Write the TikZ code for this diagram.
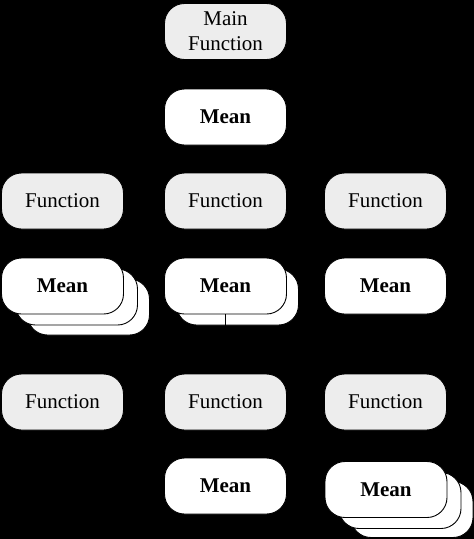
\documentclass[tikz,border=0pt]{standalone}
\usepackage{fontspec}
\setmainfont{Liberation Serif}
\begin{document}
\begin{tikzpicture}[x=1pt,y=-1pt,
  card/.style={draw=black, line width=0.9pt, rounded corners=20pt, minimum width=122pt, minimum height=56pt, inner sep=0pt, align=center, font=\fontsize{21}{25}\selectfont},
  func/.style={card, fill=funcgray},
  meanbox/.style={card, fill=white, font=\fontsize{21}{25}\selectfont\bfseries},
  copybox/.style={card, fill=white}]
\definecolor{funcgray}{HTML}{EDEDED}
\useasboundingbox (0,0) rectangle (474,539);
\fill[black] (0,0) rectangle (474,539);
% top
\node[func] (main) at (225.5,31.5) {Main\\Function};
\node[meanbox] (mean0) at (225.5,117) {Mean};
% row of functions
\node[func] (f1) at (62.5,201) {Function};
\node[func] (f2) at (225.5,201) {Function};
\node[func] (f3) at (385.5,201) {Function};
% row of means
\node[copybox] (m1c2) at (88.5,307) {};
\node[copybox] (m1c1) at (76.5,297) {};
\node[meanbox] (m1) at (62.5,286) {Mean};
\node[copybox] (m2c1) at (237.5,297) {};
\node[meanbox] (m2) at (225.5,286) {Mean};
\node[meanbox] (m3) at (385.5,286) {Mean};
% second row of functions
\node[func] (g1) at (62.5,402) {Function};
\node[func] (g2) at (225.5,402) {Function};
\node[func] (g3) at (385.5,402) {Function};
% bottom means
\node[meanbox] (n2) at (225.5,486) {Mean};
\node[copybox] (n3c2) at (412,509.5) {};
\node[copybox] (n3c1) at (400,500.5) {};
\node[meanbox] (n3) at (386,489.5) {Mean};
% connector
\draw[black, line width=0.9pt] (m2.south) -- (g2.north);
\end{tikzpicture}
\end{document}
